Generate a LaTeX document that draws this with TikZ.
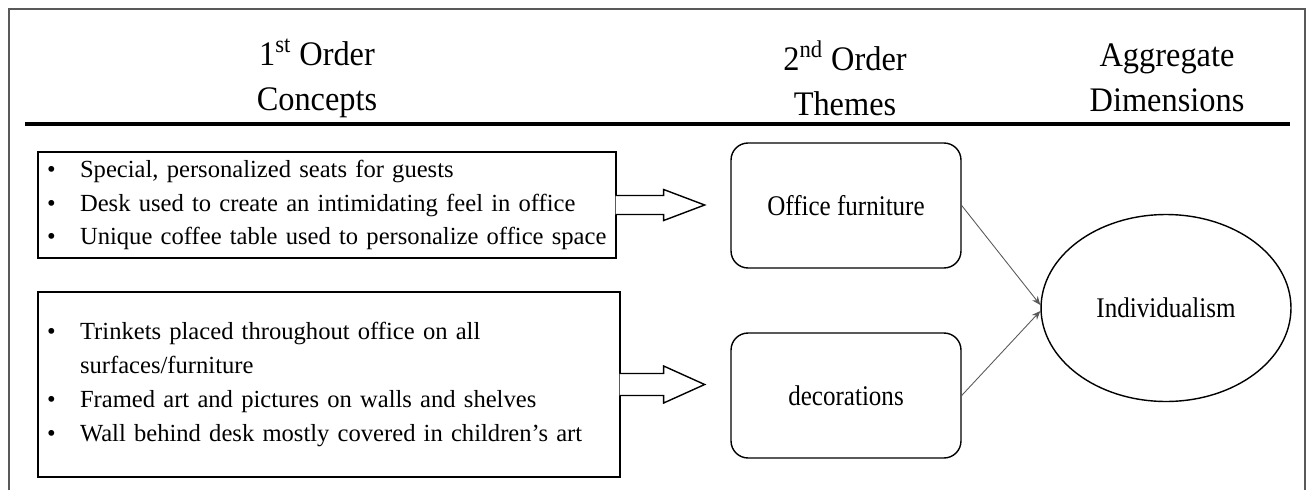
\documentclass[tikz,border=0pt]{standalone}
\usepackage{fontspec}
\setmainfont{Liberation Serif}
\newfontfamily\narrowfont[FakeStretch=0.88]{Liberation Serif}
\newfontfamily\headfont[FakeStretch=0.94]{Liberation Serif}
\usetikzlibrary{positioning,
				arrows.meta,
				shapes.geometric,
				calc}

\newcommand{\bul}{\makebox[0.66cm][l]{\textbullet}}
\newcommand{\cont}{\hspace*{0.66cm}}

\tikzset{
  head/.style={align=center, font=\headfont\fontsize{19.6}{25.5}\selectfont},
  concept/.style={draw, thick, align=left, inner xsep=0.18cm,
                  font=\fontsize{14}{19.2}\selectfont},
  theme/.style={draw, thick, rounded corners=0.34cm, minimum width=4.6cm,
                minimum height=2.5cm, font=\narrowfont\fontsize{16.2}{19}\selectfont},
  aggregate/.style={draw, thick, ellipse, inner sep=0pt, minimum width=5cm,
                    minimum height=3.74cm, font=\narrowfont\fontsize{16.2}{19}\selectfont},
  blockarrow/.style={draw, thick, fill=white},
  link/.style={draw=gray!70!black, line width=0.5pt, -{Stealth[length=5pt,width=4pt]}}
}

\begin{document}
\begin{tikzpicture}[x=0.02cm, y=-0.02cm, thick]
  \useasboundingbox (0,0) rectangle (1307,490);
  % frame and rule
  \draw[gray!70!black] (9,490) -- (9,9) -- (1305,9) -- (1305,490);
  \draw[line width=2pt] (25,124) -- (1290,124);
  % column heads
  \node[head] (h1) at (317,78) {1\textsuperscript{st} Order\\Concepts};
  \node[head] (h2) at (845,78) {2\textsuperscript{nd} Order\\Themes};
  \node[head] (h3) at (1167,78) {Aggregate\\Dimensions};
  % 1st order concepts
  \node[concept, text width=11.2cm, minimum height=2.12cm] (c1) at (327,205)
    {\bul Special, personalized seats for guests\\
     \bul Desk used to create an intimidating feel in office\\
     \bul Unique coffee table used to personalize office space};
  \node[concept, text width=11.28cm, minimum height=3.7cm] (c2) at (329,384.5)
    {\bul Trinkets placed throughout office on all\\
     \cont surfaces/furniture\\
     \bul Framed art and pictures on walls and shelves\\
     \bul Wall behind desk mostly covered in children's art};
  % block arrows
  \filldraw[blockarrow] ($(c1.east)+(-1,-9.5)$) -- ($(c1.east)+(47,-9.5)$)
    -- ($(c1.east)+(47,-15.5)$) -- ($(c1.east)+(88,0)$)
    -- ($(c1.east)+(47,15.5)$) -- ($(c1.east)+(47,9.5)$) -- ($(c1.east)+(-1,9.5)$);
  \filldraw[blockarrow] ($(c2.east)+(-1,-11)$) -- ($(c2.east)+(43,-11)$)
    -- ($(c2.east)+(43,-18.5)$) -- ($(c2.east)+(84,0)$)
    -- ($(c2.east)+(43,18.5)$) -- ($(c2.east)+(43,11)$) -- ($(c2.east)+(-1,11)$);
  % 2nd order themes
  \node[theme] (t1) at (846,205.5) {Office furniture};
  \node[theme] (t2) at (846,395.5) {decorations};
  % aggregate dimension
  \node[aggregate] (a1) at (1166,308) {Individualism};
  \draw[link] (t1.east) -- ($(a1.west)+(0,-3)$);
  \draw[link] (t2.east) -- ($(a1.west)+(0,3)$);
\end{tikzpicture}
\end{document}
